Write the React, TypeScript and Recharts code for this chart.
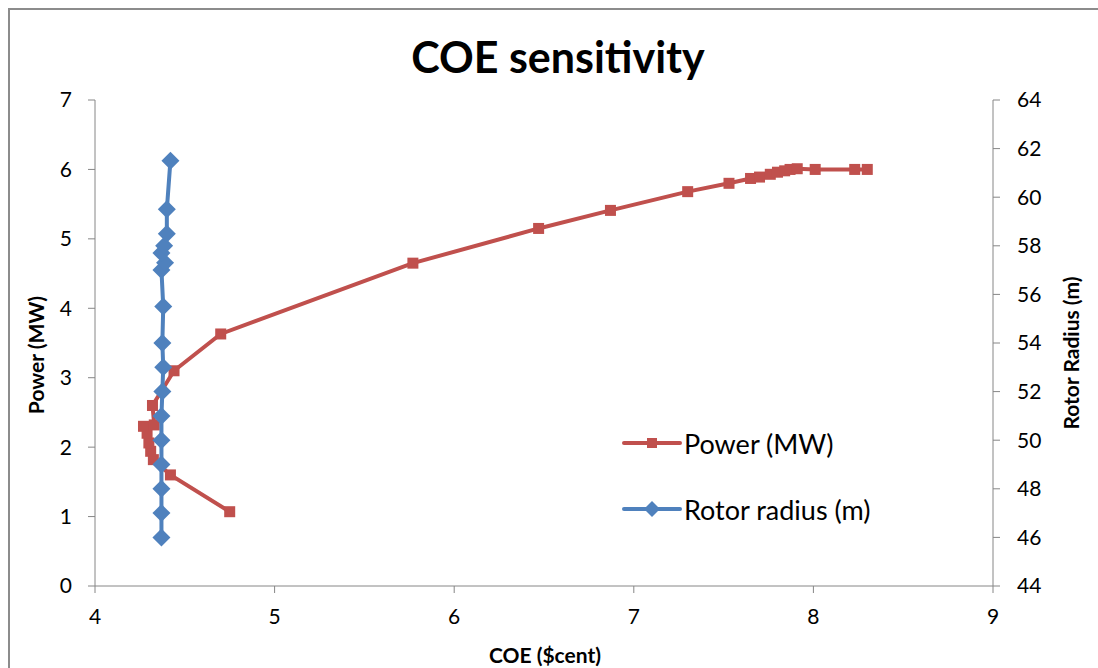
import { ScatterChart, Scatter, XAxis, YAxis, Legend } from "recharts";

const RED = "#C0504D";
const BLUE = "#4F81BD";
const AXIS = "#868686";
const FONT = "Lato, 'Open Sans', sans-serif";

const coeTicks = [4, 5, 6, 7, 8, 9];
const powerTicks = [0, 1, 2, 3, 4, 5, 6, 7];
const radiusTicks = [44, 46, 48, 50, 52, 54, 56, 58, 60, 62, 64];

// Power (MW) vs COE
const powerCoe = [
  4.75, 4.42, 4.325, 4.31, 4.3, 4.29, 4.27, 4.33, 4.32, 4.44, 4.7, 5.77, 6.47,
  6.87, 7.3, 7.53, 7.65, 7.7, 7.76, 7.8, 7.84, 7.87, 7.91, 8.01, 8.23, 8.3,
];
const powerMw = [
  1.07, 1.6, 1.82, 1.94, 2.06, 2.2, 2.3, 2.32, 2.6, 3.1, 3.63, 4.65, 5.15, 5.41,
  5.68, 5.8, 5.87, 5.89, 5.93, 5.96, 5.98, 6.0, 6.01, 6.0, 6.0, 6.0,
];

// Rotor radius (m) vs COE
const radiusCoe = [
  4.37, 4.37, 4.37, 4.37, 4.37, 4.37, 4.375, 4.38, 4.375, 4.38, 4.37, 4.39,
  4.37, 4.385, 4.4, 4.4, 4.42,
];
const radiusM = [
  46, 47, 48, 49, 50, 51, 52, 53, 54, 55.5, 57, 57.3, 57.7, 58, 58.5, 59.5, 61.5,
];

const powerData = powerCoe.map((x, i) => ({ x, y: powerMw[i] }));
const radiusData = radiusCoe.map((x, i) => ({ x, y: radiusM[i] }));

const RedSquare = (p: any) => (
  <rect x={p.cx - 5.5} y={p.cy - 5.5} width={11} height={11} fill={RED} />
);

const BlueDiamond = (p: any) => {
  const { cx, cy } = p;
  return (
    <polygon
      points={`${cx},${cy - 9} ${cx + 9},${cy} ${cx},${cy + 9} ${cx - 9},${cy}`}
      fill={BLUE}
    />
  );
};

const legendItems = [
  { label: "Power (MW)", color: RED, marker: "square" },
  { label: "Rotor radius (m)", color: BLUE, marker: "diamond" },
];

const renderLegend = () => (
  <div style={{ fontFamily: FONT, fontSize: 27, color: "#000" }}>
    {legendItems.map((it) => (
      <div
        key={it.label}
        style={{ display: "flex", alignItems: "center", height: 32, marginBottom: 34 }}
      >
        <svg width={60} height={20} style={{ marginRight: 2 }}>
          <line x1={2} y1={10} x2={58} y2={10} stroke={it.color} strokeWidth={4} strokeLinecap="round" />
          {it.marker === "square" ? (
            <rect x={25} y={5} width={10} height={10} fill={it.color} />
          ) : (
            <polygon points="30,2 38,10 30,18 22,10" fill={it.color} />
          )}
        </svg>
        <span>{it.label}</span>
      </div>
    ))}
  </div>
);

const tickStyle = { fill: "#000", fontSize: 21, fontFamily: FONT };

const titleStyle = {
  position: "absolute" as const,
  width: 200,
  textAlign: "center" as const,
  fontFamily: FONT,
  fontWeight: 700,
  fontSize: 21,
  lineHeight: "28px",
  color: "#000",
};

export default function App() {
  return (
    <div
      style={{
        position: "absolute",
        left: 0,
        top: 0,
        width: 1098,
        height: 668,
        overflow: "hidden",
        background: "#fff",
      }}
    >
      {/* chart frame: only its top and left edges fall inside the picture */}
      <div style={{ position: "absolute", left: 8, top: 8, width: 1090, height: 1.5, background: "#8c8c8c" }} />
      <div style={{ position: "absolute", left: 8, top: 8, width: 1.5, height: 660, background: "#8c8c8c" }} />
      <ScatterChart
        width={1098}
        height={668}
        margin={{ top: 100, right: 0, bottom: 0, left: 0 }}
      >
        <XAxis
          type="number"
          dataKey="x"
          domain={[4, 9]}
          ticks={coeTicks}
          height={82}
          stroke={AXIS}
          tickSize={7}
          tickMargin={16}
          tick={tickStyle}
        />
        <YAxis
          yAxisId="left"
          type="number"
          dataKey="y"
          domain={[0, 7]}
          ticks={powerTicks}
          width={95}
          stroke={AXIS}
          tickSize={7}
          tickMargin={16}
          tick={tickStyle}
        />
        <YAxis
          yAxisId="right"
          orientation="right"
          type="number"
          dataKey="y"
          domain={[44, 64]}
          ticks={radiusTicks}
          width={105}
          stroke={AXIS}
          tickSize={7}
          tickMargin={17}
          tick={tickStyle}
        />
        <Legend
          layout="vertical"
          align="center"
          verticalAlign="middle"
          content={renderLegend}
          wrapperStyle={{ position: "absolute", left: 622, top: 427, width: 320 }}
        />
        <Scatter
          name="Power (MW)"
          data={powerData}
          yAxisId="left"
          line={{ stroke: RED, strokeWidth: 4 }}
          lineType="joint"
          shape={RedSquare}
          isAnimationActive={false}
        />
        <Scatter
          name="Rotor radius (m)"
          data={radiusData}
          yAxisId="right"
          line={{ stroke: BLUE, strokeWidth: 4 }}
          lineType="joint"
          shape={BlueDiamond}
          isAnimationActive={false}
        />
      </ScatterChart>
      <div
        style={{
          position: "absolute",
          left: 0,
          width: 1116,
          top: 31,
          textAlign: "center",
          fontFamily: FONT,
          fontWeight: 700,
          fontSize: 43,
          color: "#000",
        }}
      >
        COE sensitivity
      </div>
      <div style={{ ...titleStyle, left: 36 - 100, top: 355 - 14, transform: "rotate(-90deg)" }}>
        Power (MW)
      </div>
      <div style={{ ...titleStyle, left: 1071 - 100, top: 353 - 14, transform: "rotate(-90deg)" }}>
        Rotor Radius (m)
      </div>
      <div style={{ ...titleStyle, left: 545 - 100, top: 655 - 14 }}>COE ($cent)</div>
    </div>
  );
}
